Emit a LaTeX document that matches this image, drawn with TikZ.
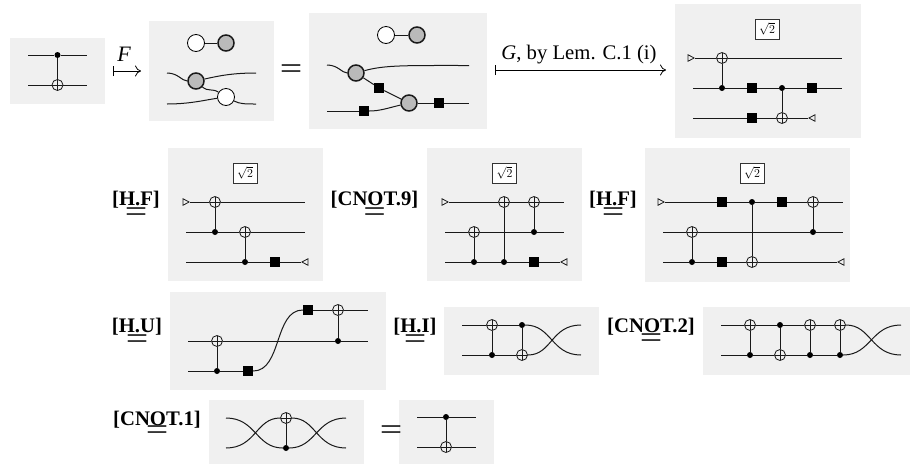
\documentclass[tikz,border=0pt]{standalone}
\usepackage{fontspec}
\setmainfont{Liberation Serif}
\newfontfamily\eqfont[FakeStretch=1.33]{Liberation Serif}
\usetikzlibrary{shapes.geometric,arrows.meta}
\tikzset{
  x=1pt,y=-1pt,
  panel/.style={fill=black!6,draw=none},
  wire/.style={line width=1pt,black!90},
  ctl/.style={circle,fill=black,draw=none,inner sep=0pt,minimum size=6pt},
  sq/.style={rectangle,fill=black,draw=none,inner sep=0pt,minimum size=10pt},
  oplus/.style={circle,draw=black!90,line width=0.8pt,inner sep=0pt,minimum size=11pt,
    path picture={\draw[line width=0.7pt,black!90] (path picture bounding box.north)--(path picture bounding box.south)
      (path picture bounding box.west)--(path picture bounding box.east);}},
  trir/.style={isosceles triangle,isosceles triangle stretches,draw=black!90,line width=0.8pt,inner sep=0pt,minimum width=6.5pt,minimum height=6pt},
  tril/.style={trir,shape border rotate=180},
  wnode/.style={circle,draw=black,fill=white,line width=0.8pt,inner sep=0pt,minimum size=17pt},
  gnode/.style={circle,draw=black!90,fill=black!27,line width=1.5pt,inner sep=0pt,minimum size=16pt},
  rootbox/.style={draw=black!80,fill=white,line width=0.8pt,inner sep=0pt,minimum width=24pt,minimum height=20pt,font=\fontsize{13}{15}\selectfont},
  rule/.style={font=\fontsize{20.7}{24}\bfseries\selectfont,anchor=base,inner sep=0pt},
  eqs/.style={font=\eqfont\fontsize{30}{30}\selectfont,inner sep=0pt,anchor=base,yshift=-7.6pt},
  lab/.style={font=\fontsize{20.7}{24}\selectfont,inner sep=0pt,anchor=base},
  maparrow/.style={line width=0.8pt,{Bar[width=10pt]}-{To[length=6pt,width=11pt]}}
}
\newcommand{\Ctl}[3]{\node[ctl] (#1) at (#2,#3) {};}
\newcommand{\Opl}[3]{\node[oplus] (#1) at (#2,#3) {};}
\newcommand{\Sqr}[3]{\node[sq] (#1) at (#2,#3) {};}
\newcommand{\Pt}[3]{\coordinate (#1) at (#2,#3);}
\newcommand{\Panel}[4]{\fill[panel] (#1,#2) rectangle (#3,#4);}
\begin{document}
\begin{tikzpicture}
\useasboundingbox (0,0) rectangle (910,464);
% panels
\Panel{10}{38}{105}{104}
\Panel{149}{21}{274}{121}
\Panel{309}{13}{487}{129}
\Panel{675}{4}{861}{138}
\Panel{168}{148}{323}{281}
\Panel{427}{148}{582}{281}
\Panel{645}{148}{850}{282}
\Panel{170}{292}{386}{390}
\Panel{444}{307}{599}{375}
\Panel{703}{307}{910}{375}
\Panel{209}{400}{364}{464}
\Panel{399}{400}{494}{464}

% P1
\Ctl{a1}{57.5}{55}\Opl{a2}{57.5}{85}
\Pt{a3}{28}{55}\Pt{a4}{87}{55}\Pt{a5}{28}{85}\Pt{a6}{87}{85}
\draw[wire] (a3)--(a1)--(a4) (a5)--(a2)--(a6) (a1)--(a2);

% F arrow
\Pt{fa}{113}{71}\Pt{fb}{141}{71}
\draw[maparrow] (fa)--(fb);
\node[lab,font=\fontsize{22}{24}\itshape\selectfont] (flab) at (124,61.5) {F};

% P2
\node[wnode] (b1) at (196,43) {};
\node[gnode] (b2) at (226,43) {};
\draw[wire] (b1)--(b2);
\node[gnode] (b3) at (196,81) {};
\node[wnode] (b4) at (226,97) {};
\Pt{b5}{167}{73}\Pt{b6}{256}{73}\Pt{b7}{167}{104}\Pt{b8}{256}{104}
\draw[wire] (b5) .. controls (178,73) and (182,81) .. (b3);
\draw[wire] (b3) .. controls (218,76) and (232,73) .. (b6);
\draw[wire] (b3) .. controls (208,92) and (212,88) .. (b4);
\draw[wire] (b7) .. controls (190,104) and (205,100) .. (b4);
\draw[wire] (b4) .. controls (240,104) and (245,104) .. (b8);

\node[eqs] (eq1) at (291,71) {=};

% P3
\node[wnode] (c1) at (386,35) {};
\node[gnode] (c2) at (417,35) {};
\draw[wire] (c1)--(c2);
\node[gnode] (c3) at (356,73) {};
\node[gnode] (c4) at (409,103) {};
\Sqr{c5}{379}{88}\Sqr{c6}{364}{111}\Sqr{c7}{439}{103}
\Pt{c8}{327}{65}\Pt{c9}{469}{65.5}\Pt{c10}{327}{111}\Pt{c11}{469}{103}
\draw[wire] (c8) .. controls (338,65) and (342,73) .. (c3);
\draw[wire] (c3) .. controls (385,65) and (405,65.5) .. (c9);
\draw[wire] (c3)--(c5)--(c4);
\draw[wire] (c10)--(c6);
\draw[wire] (c6) .. controls (380,111) and (388,108) .. (c4);
\draw[wire] (c4)--(c7)--(c11);

% G arrow
\Pt{ga}{495}{70}\Pt{gb}{666}{70}
\draw[maparrow] (ga)--(gb);
\node[lab] (glab) at (579,59) {\textit{G}, by Lem. C.1 (i)};

% P4
\node[rootbox] (droot) at (767,29) {$\sqrt{2}$};
\node[trir] (d1) at (690,58) {};
\Opl{d2}{722}{58}\Pt{d3}{842}{58}
\Pt{d4}{693}{88}\Ctl{d5}{722}{88}\Sqr{d6}{752}{88}\Ctl{d7}{782}{88}\Sqr{d8}{812}{88}\Pt{d9}{842}{88}
\Pt{d10}{693}{118}\Sqr{d11}{752}{118}\Opl{d12}{782}{118}
\node[tril] (d13) at (813,118) {};
\draw[wire] (d1)--(d2)--(d3) (d4)--(d5)--(d6)--(d7)--(d8)--(d9) (d10)--(d11)--(d12)--(d13) (d2)--(d5) (d7)--(d12);

% rule row 2
\node[rule] (r1) at (136,205) {[H.F]};
\node[eqs] (e1) at (136,214) {=};
\node[rule] (r2) at (374.5,205) {[CNOT.9]};
\node[eqs] (e2) at (374.5,214) {=};
\node[rule] (r3) at (613,205) {[H.F]};
\node[eqs] (e3) at (613,214) {=};

% P5
\node[rootbox] (eroot) at (245,173) {$\sqrt{2}$};
\node[trir] (f1) at (185,202) {};
\Opl{f2}{215}{202}\Pt{f3}{305}{202}
\Pt{f4}{186}{232}\Ctl{f5}{215}{232}\Opl{f6}{245}{232}\Pt{f7}{305}{232}
\Pt{f8}{186}{262}\Ctl{f9}{245}{262}\Sqr{f10}{275}{262}
\node[tril] (f11) at (306,262) {};
\draw[wire] (f1)--(f2)--(f3) (f4)--(f5)--(f6)--(f7) (f8)--(f9)--(f10)--(f11) (f2)--(f5) (f6)--(f9);

% P6
\node[rootbox] (groot) at (504.5,173) {$\sqrt{2}$};
\node[trir] (g1) at (444,202) {};
\Opl{g2}{504}{202}\Opl{g3}{534}{202}\Pt{g4}{564}{202}
\Pt{g5}{445}{232}\Opl{g6}{474}{232}\Ctl{g7}{534}{232}\Pt{g8}{564}{232}
\Pt{g9}{445}{262}\Ctl{g10}{474}{262}\Ctl{g11}{504}{262}\Sqr{g12}{534}{262}
\node[tril] (g13) at (565,262) {};
\draw[wire] (g1)--(g2)--(g3)--(g4) (g5)--(g6)--(g7)--(g8) (g9)--(g10)--(g11)--(g12)--(g13) (g6)--(g10) (g2)--(g11) (g3)--(g7);

% P7
\node[rootbox] (hroot) at (752,173) {$\sqrt{2}$};
\node[trir] (h1) at (660,202) {};
\Sqr{h2}{722}{202}\Ctl{h3}{752}{202}\Sqr{h4}{782}{202}\Opl{h5}{813}{202}\Pt{h6}{843}{202}
\Pt{h7}{663}{232}\Opl{h8}{692}{232}\Ctl{h9}{813}{232}\Pt{h10}{843}{232}
\Pt{h11}{663}{262}\Ctl{h12}{692}{262}\Sqr{h13}{722}{262}\Opl{h14}{752}{262}
\node[tril] (h15) at (842,262) {};
\draw[wire] (h1)--(h2)--(h3)--(h4)--(h5)--(h6) (h7)--(h8)--(h9)--(h10) (h11)--(h12)--(h13)--(h14)--(h15) (h8)--(h12) (h3)--(h14) (h5)--(h9);

% rule row 3
\node[rule] (r4) at (137,332) {[H.U]};
\node[eqs] (e4) at (137,341) {=};
\node[rule] (r5) at (415,332) {[H.I]};
\node[eqs] (e5) at (415,341) {=};
\node[rule] (r6) at (651,332) {[CNOT.2]};
\node[eqs] (e6) at (651,340) {=};

% P8
\Pt{i1}{188}{341}\Opl{i2}{217}{341}\Ctl{i3}{338}{341}\Pt{i4}{368}{341}
\Pt{i5}{188}{371}\Ctl{i6}{217}{371}\Sqr{i7}{248}{371}
\Sqr{i8}{308}{310}\Opl{i9}{338}{310}\Pt{i10}{368}{310}
\draw[wire] (i1)--(i2)--(i3)--(i4) (i5)--(i6)--(i7) (i8)--(i9)--(i10) (i2)--(i6) (i9)--(i3);
\draw[wire] (i7) .. controls (282,371) and (274,310) .. (i8);

% P9
\Pt{k1}{462}{325}\Opl{k2}{492}{325}\Ctl{k3}{522}{325}\Pt{k4}{581}{325}
\Pt{k5}{462}{355}\Ctl{k6}{492}{355}\Opl{k7}{522}{355}\Pt{k8}{581}{355}
\draw[wire] (k1)--(k2)--(k3) (k5)--(k6)--(k7) (k2)--(k6) (k3)--(k7);
\draw[wire] (k3) .. controls (552,325) and (551,355) .. (k8);
\draw[wire] (k7) .. controls (552,355) and (551,325) .. (k4);

% P10
\Pt{m1}{721}{325}\Opl{m2}{750}{325}\Ctl{m3}{780}{325}\Opl{m4}{810}{325}\Opl{m5}{840}{325}\Pt{m6}{901}{325}
\Pt{m7}{721}{355}\Ctl{m8}{750}{355}\Opl{m9}{780}{355}\Ctl{m10}{810}{355}\Ctl{m11}{840}{355}\Pt{m12}{901}{355}
\draw[wire] (m1)--(m2)--(m3)--(m4)--(m5) (m7)--(m8)--(m9)--(m10)--(m11) (m2)--(m8) (m3)--(m9) (m4)--(m10) (m5)--(m11);
\draw[wire] (m5) .. controls (871,325) and (871,355) .. (m12);
\draw[wire] (m11) .. controls (871,355) and (871,325) .. (m6);

% rule row 4
\node[rule] (r7) at (157,425) {[CNOT.1]};
\node[eqs] (e7) at (157,432) {=};

% P11
\Pt{n1}{226}{418}\Pt{n2}{226}{448}\Opl{n3}{286}{418}\Ctl{n4}{286}{448}\Pt{n5}{346}{418}\Pt{n6}{346}{448}
\draw[wire] (n3)--(n4);
\draw[wire] (n1) .. controls (256,418) and (256,448) .. (n4);
\draw[wire] (n2) .. controls (256,448) and (256,418) .. (n3);
\draw[wire] (n3) .. controls (316,418) and (316,448) .. (n6);
\draw[wire] (n4) .. controls (316,448) and (316,418) .. (n5);

\node[eqs] (e8) at (391,432) {=};

% P12
\Ctl{p1}{446}{417}\Opl{p2}{446}{447}
\Pt{p3}{417}{417}\Pt{p4}{476}{417}\Pt{p5}{417}{447}\Pt{p6}{476}{447}
\draw[wire] (p3)--(p1)--(p4) (p5)--(p2)--(p6) (p1)--(p2);
\end{tikzpicture}
\end{document}
